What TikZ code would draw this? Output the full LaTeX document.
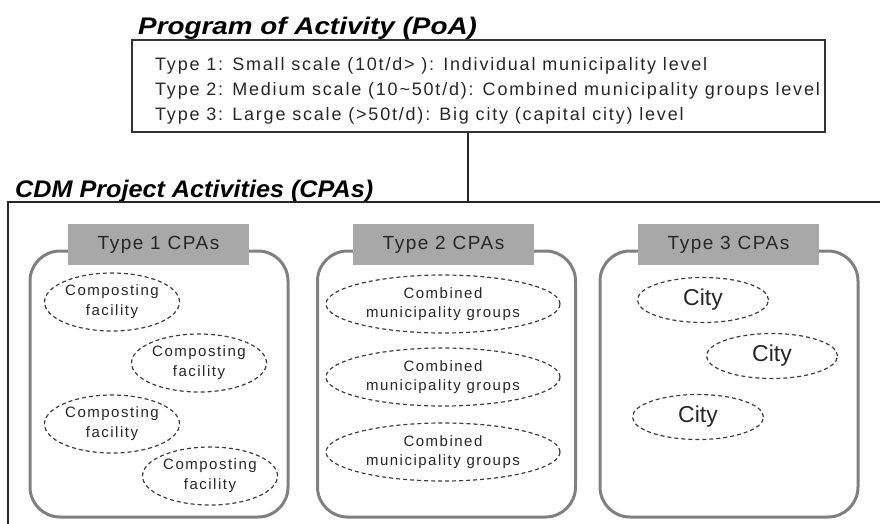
\documentclass[tikz,border=0pt]{standalone}
\usepackage{fontspec}
\setmainfont{Liberation Sans}
\newfontfamily\spaced[LetterSpace=8]{Liberation Sans}
\newfontfamily\spacedwide[LetterSpace=10]{Liberation Sans}
\usetikzlibrary{shapes.geometric}
\definecolor{framegray}{HTML}{808080}
\definecolor{labelgray}{HTML}{A8A8A8}
\definecolor{dashgray}{HTML}{3C3C3C}
\begin{document}
\begin{tikzpicture}[x=1pt,y=-1pt,
  heading/.style={font=\fontsize{24}{26}\selectfont\bfseries\itshape, anchor=base west, inner sep=0pt},
  poaline/.style={font=\spacedwide\fontsize{18}{20}\selectfont, anchor=base west, inner sep=0pt, text=black!85},
  group/.style={draw=framegray, line width=3pt, rounded corners=30pt, minimum width=258pt, minimum height=266pt, inner sep=0pt},
  typelabel/.style={fill=labelgray, minimum width=181pt, minimum height=41pt, inner sep=0pt, font=\spaced\fontsize{19}{21}\selectfont, text=black!85},
  member/.style={ellipse, draw=dashgray, dashed, dash pattern=on 4pt off 3pt, line width=1.2pt, inner sep=0pt, align=center, text=black!85},
  facility/.style={member, minimum width=135pt, minimum height=58pt, font=\spacedwide\fontsize{15}{20}\selectfont},
  groups/.style={member, minimum width=234pt, minimum height=58pt, font=\spacedwide\fontsize{15}{19}\selectfont},
  city/.style={member, minimum width=131pt, minimum height=45pt, font=\fontsize{23}{25}\selectfont}
]
\useasboundingbox (0,0) rectangle (880,523);

% Programme of Activity
\node[heading] (poatitle) at (138,34) {\scalebox{1.16}[1]{Program of Activity (PoA)}};
\node[draw=black!80, line width=1.2pt, minimum width=693pt, minimum height=92pt, inner sep=0pt] (poa) at (478.5,86) {};
\node[poaline] (t1) at (155,70) {Type 1: Small scale (10t/d> ): Individual municipality level};
\node[poaline] (t2) at (155,95) {Type 2: Medium scale (10\textasciitilde 50t/d): Combined municipality groups level};
\node[poaline] (t3) at (155,120) {Type 3: Large scale (>50t/d): Big city (capital city) level};

% CDM Project Activities frame (open towards the right and bottom)
\node[heading] (cpatitle) at (15,197) {\scalebox{1.05}[1]{CDM Project Activities (CPAs)}};
\coordinate (cpacorner) at (8,202);
\coordinate (cpatop) at (468,202);
\draw[black!85, line width=1.3pt] (8,530) -- (cpacorner) -- (890,202);
\draw[black!85, line width=1.2pt] (poa.south -| cpatop) -- (cpatop);

% Three groups of CPAs
\node[group] (g1) at (159,384) {};
\node[group] (g2) at (446.5,384) {};
\node[group] (g3) at (729,384) {};
\node[typelabel] (l1) at (158.5,244.5) {Type 1 CPAs};
\node[typelabel] (l2) at (443.5,244.5) {Type 2 CPAs};
\node[typelabel] (l3) at (728.5,244.5) {Type 3 CPAs};

% Type 1 members
\node[facility] (f1) at (112,302) {Composting\\facility};
\node[facility] (f2) at (199,363) {Composting\\facility};
\node[facility] (f3) at (112,424) {Composting\\facility};
\node[facility] (f4) at (210,476) {Composting\\facility};

% Type 2 members
\node[groups] (m1) at (443,304) {Combined\\municipality groups};
\node[groups] (m2) at (443,377) {Combined\\municipality groups};
\node[groups] (m3) at (443,452) {Combined\\municipality groups};

% Type 3 members
\node[city] (c1) at (703,300) {City};
\node[city] (c2) at (772,356) {City};
\node[city] (c3) at (698,417) {City};
\end{tikzpicture}
\end{document}
